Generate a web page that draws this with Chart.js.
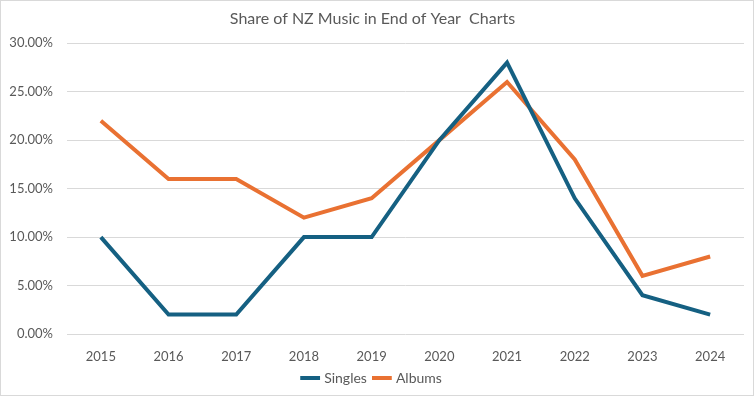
<!DOCTYPE html>
<html>
<head>
<meta charset="utf-8">
<script src="https://cdn.jsdelivr.net/npm/chart.js@4"></script>
<style>
    html, body { margin: 0; padding: 0; background: #fff; }
    #wrap { width: 754px; height: 396px; box-sizing: border-box; border: 1px solid #d9d9d9; }
    canvas { display: block; }
</style>
</head>
<body>
<div id="wrap"><canvas id="chart" width="752" height="394"></canvas></div>
<script>
// =======================
// DATA
// =======================
const years = ["2015", "2016", "2017", "2018", "2019", "2020", "2021", "2022", "2023", "2024"];
const singles = [10, 2, 2, 10, 10, 20, 28, 14, 4, 2];
const albums = [22, 16, 16, 12, 14, 20, 26, 18, 6, 8];

const textColor = "#595959";
const gridColor = "#d9d9d9";

const ctx = document.getElementById("chart").getContext("2d");

new Chart(ctx, {
    type: "line",
    data: {
        labels: years,
        datasets: [{
            label: "Singles",
            data: singles,
            borderColor: "#156082",
            backgroundColor: "#156082",
            borderWidth: 4,
            pointRadius: 0,
            tension: 0
        }, {
            label: "Albums",
            data: albums,
            borderColor: "#e97132",
            backgroundColor: "#e97132",
            borderWidth: 4,
            pointRadius: 0,
            tension: 0
        }]
    },
    options: {
        responsive: false,
        animation: false,
        layout: {
            padding: { left: 0, right: 9, top: 0, bottom: 0 }
        },
        plugins: {
            title: {
                display: true,
                text: "Share of NZ Music in End of Year  Charts",
                color: textColor,
                font: { family: "Lato", size: 16, weight: "normal" },
                padding: { top: 8, bottom: 15 }
            },
            legend: {
                position: "bottom",
                labels: {
                    color: textColor,
                    font: { family: "Lato", size: 14 },
                    usePointStyle: true,
                    pointStyle: "line",
                    boxWidth: 22,
                    padding: 8
                }
            },
            tooltip: { enabled: false }
        },
        scales: {
            x: {
                offset: true,
                afterFit: (scale) => { scale.height = 29; },
                grid: { display: false, drawTicks: false },
                border: { display: false },
                ticks: {
                    color: textColor,
                    font: { family: "Lato", size: 13 },
                    padding: 15,
                    maxRotation: 0
                }
            },
            y: {
                min: 0,
                max: 30,
                afterFit: (scale) => { scale.width = 66; },
                grid: { color: gridColor, drawTicks: false },
                border: { display: false },
                ticks: {
                    stepSize: 5,
                    color: textColor,
                    font: { family: "Lato", size: 13 },
                    padding: 14,
                    callback: (v) => v.toFixed(2) + "%"
                }
            }
        }
    }
});
</script>
</body>
</html>
